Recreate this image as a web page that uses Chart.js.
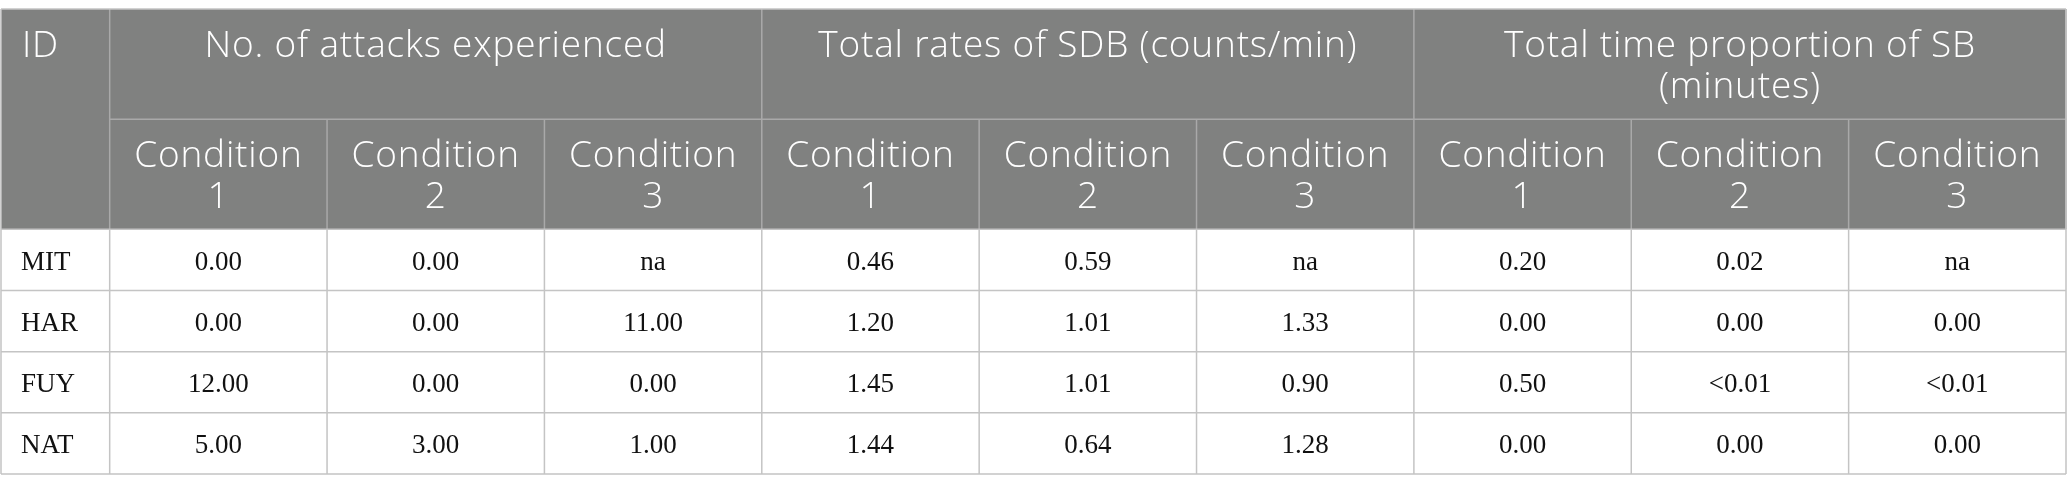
<!DOCTYPE html>
<html>
<head>
<meta charset="utf-8">
<script src="https://cdn.jsdelivr.net/npm/chart.js@4.4.1/dist/chart.umd.min.js"></script>
<style>
  html, body { margin: 0; padding: 0; background: #fff; }
  #wrap { width: 2067px; height: 493px; }
</style>
</head>
<body>
<div id="wrap"><canvas id="statsTable"></canvas></div>
<script>
// table content
const idHeader = 'ID';
const participants = ['MIT', 'HAR', 'FUY', 'NAT'];
const groupTitles = [
  ['No. of attacks experienced'],
  ['Total rates of SDB (counts/min)'],
  ['Total time proportion of SB', '(minutes)']
];
const conditionLabels = [['Condition', '1'], ['Condition', '2'], ['Condition', '3']];

// one row per participant, one value per condition (null = na)
const attacks = [
  [0.00, 0.00, null],
  [0.00, 0.00, 11.00],
  [12.00, 0.00, 0.00],
  [5.00, 3.00, 1.00]
];
const sdbRates = [
  [0.46, 0.59, null],
  [1.20, 1.01, 1.33],
  [1.45, 1.01, 0.90],
  [1.44, 0.64, 1.28]
];
const sbTime = [
  [0.20, 0.02, null],
  [0.00, 0.00, 0.00],
  [0.50, '<0.01', '<0.01'],
  [0.00, 0.00, 0.00]
];
const groups = [attacks, sdbRates, sbTime];

function fmt(v) {
  if (v === null) return 'na';
  if (typeof v === 'string') return v;
  return v.toFixed(2);
}

// layout in scale units
const ID_W = 0.5;      // id column is half a condition column
const HEAD_H = 1.8;    // header rows are taller than body rows
const nCols = groups.length * 3;
const xMax = ID_W + nCols;
const yMax = HEAD_H * 2 + participants.length;

const HEAD_BG = '#808180';
const HEAD_LINE = '#a9a9a9';
const BODY_LINE = '#c4c4c4';
const HEAD_FONT = '300 37px "Open Sans", sans-serif';
const BODY_FONT = '27px "Liberation Serif", "Times New Roman", serif';

const tablePlugin = {
  id: 'tableDraw',
  beforeDraw(chart) {
    const { ctx, scales: { x, y } } = chart;
    const px = v => x.getPixelForValue(v);
    const py = v => y.getPixelForValue(v);

    // header background
    ctx.save();
    ctx.fillStyle = HEAD_BG;
    ctx.fillRect(px(0), py(0), px(xMax) - px(0), py(HEAD_H * 2) - py(0));

    // header text
    ctx.fillStyle = '#ffffff';
    ctx.font = HEAD_FONT;
    ctx.letterSpacing = '0.8px';
    ctx.textBaseline = 'alphabetic';
    ctx.textAlign = 'left';
    ctx.fillText(idHeader, px(0) + 21, py(0) + 48);

    ctx.textAlign = 'center';
    groups.forEach((g, gi) => {
      const c0 = ID_W + gi * 3;
      const cx = (px(c0) + px(c0 + 3)) / 2;
      groupTitles[gi].forEach((line, li) => {
        ctx.fillText(line, cx, py(0) + 48 + li * 41);
      });
      conditionLabels.forEach((lab, ci) => {
        const ccx = (px(c0 + ci) + px(c0 + ci + 1)) / 2;
        lab.forEach((line, li) => {
          ctx.fillText(line, ccx, py(HEAD_H) + 48 + li * 41);
        });
      });
    });

    // header grid lines
    ctx.strokeStyle = HEAD_LINE;
    ctx.lineWidth = 1.5;
    ctx.beginPath();
    ctx.moveTo(px(ID_W), py(HEAD_H));
    ctx.lineTo(px(xMax), py(HEAD_H));
    for (let c = 0; c <= nCols; c++) {
      const top = (c % 3 === 0) ? 0 : HEAD_H;
      ctx.moveTo(px(ID_W + c), py(top));
      ctx.lineTo(px(ID_W + c), py(HEAD_H * 2));
    }
    ctx.stroke();

    // body text
    ctx.letterSpacing = '0px';
    ctx.fillStyle = '#111111';
    ctx.font = BODY_FONT;
    participants.forEach((p, ri) => {
      const top = HEAD_H * 2 + ri;
      const base = (py(top) + py(top + 1)) / 2 + 10;
      ctx.textAlign = 'left';
      ctx.fillText(p, px(0) + 20, base);
      ctx.textAlign = 'center';
      groups.forEach((g, gi) => {
        g[ri].forEach((v, ci) => {
          const c = ID_W + gi * 3 + ci;
          ctx.fillText(fmt(v), (px(c) + px(c + 1)) / 2, base);
        });
      });
    });

    // body grid lines
    ctx.strokeStyle = BODY_LINE;
    ctx.lineWidth = 1.5;
    ctx.beginPath();
    for (let r = 0; r <= participants.length; r++) {
      ctx.moveTo(px(0), py(HEAD_H * 2 + r));
      ctx.lineTo(px(xMax), py(HEAD_H * 2 + r));
    }
    const cols = [0, ID_W];
    for (let c = 1; c <= nCols; c++) cols.push(ID_W + c);
    cols.forEach(c => {
      ctx.moveTo(px(c), py(HEAD_H * 2));
      ctx.lineTo(px(c), py(yMax));
    });
    // outer frame of header
    ctx.moveTo(px(0), py(0));
    ctx.lineTo(px(xMax), py(0));
    ctx.moveTo(px(0), py(0));
    ctx.lineTo(px(0), py(HEAD_H * 2));
    ctx.moveTo(px(xMax), py(0));
    ctx.lineTo(px(xMax), py(HEAD_H * 2));
    ctx.stroke();
    ctx.restore();
  }
};

new Chart(document.getElementById('statsTable'), {
  type: 'scatter',
  data: { datasets: [] },
  options: {
    responsive: true,
    maintainAspectRatio: false,
    animation: false,
    layout: { padding: { left: 1, right: 1, top: 9, bottom: 19 } },
    scales: {
      x: { type: 'linear', min: 0, max: xMax, display: false },
      y: { type: 'linear', min: 0, max: yMax, reverse: true, display: false }
    },
    plugins: {
      legend: { display: false },
      tooltip: { enabled: false }
    }
  },
  plugins: [tablePlugin]
});
</script>
</body>
</html>
